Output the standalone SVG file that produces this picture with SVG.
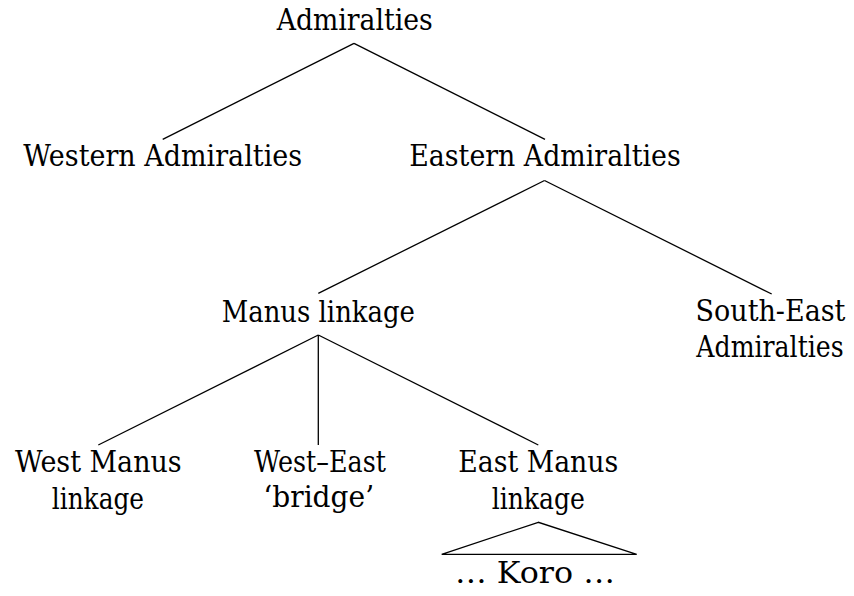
<svg xmlns="http://www.w3.org/2000/svg" width="854" height="596" viewBox="0 0 854 596">
<style>
text{font-family:'DejaVu Serif','Liberation Serif',serif;font-size:30px;fill:#000;text-anchor:middle}
.e{stroke:#000;stroke-width:1.3;fill:none}
</style>
<rect width="854" height="596" fill="#fff"/>
<g id="connectors">
<line class="e" x1="354" y1="43.3" x2="162.7" y2="139.3"/>
<line class="e" x1="354" y1="43.3" x2="545" y2="139.3"/>
<line class="e" x1="544.5" y1="180.5" x2="318.3" y2="293.3"/>
<line class="e" x1="544.5" y1="180.5" x2="771.7" y2="294"/>
<line class="e" x1="318.3" y1="335" x2="98.3" y2="445"/>
<line class="e" x1="318.3" y1="335" x2="318.3" y2="445"/>
<line class="e" x1="318.3" y1="335" x2="538.3" y2="445"/>
<polygon class="e" points="538.3,522.3 441.7,554.3 636.7,554.3"/>
</g>
<g id="n-admiralties"><text x="354.7" y="30" textLength="156" lengthAdjust="spacingAndGlyphs">Admiralties</text></g>
<g id="n-western"><text x="162.7" y="165.7" textLength="278.7" lengthAdjust="spacingAndGlyphs">Western Admiralties</text></g>
<g id="n-eastern"><text x="545" y="165.7" textLength="271.4" lengthAdjust="spacingAndGlyphs">Eastern Admiralties</text></g>
<g id="n-manus"><text x="318.3" y="321.7" textLength="193.3" lengthAdjust="spacingAndGlyphs">Manus linkage</text></g>
<g id="n-southeast"><text transform="translate(770.5,320.7) scale(0.9,1)" x="0" y="0">South-East</text><text transform="translate(770,356.7) scale(0.84,1)" x="0" y="0">Admiralties</text></g>
<g id="n-westmanus"><text x="98.3" y="472.3" textLength="166.7" lengthAdjust="spacingAndGlyphs">West Manus</text><text x="97.9" y="508.5" textLength="92.3" lengthAdjust="spacingAndGlyphs">linkage</text></g>
<g id="n-bridge"><text x="320" y="471.7" textLength="132" lengthAdjust="spacingAndGlyphs">West–East</text><text x="318.7" y="506.7" textLength="110.7" lengthAdjust="spacingAndGlyphs">‘bridge’</text></g>
<g id="n-eastmanus"><text x="538.3" y="471.7" textLength="160" lengthAdjust="spacingAndGlyphs">East Manus</text><text x="538.3" y="508.5" textLength="93.3" lengthAdjust="spacingAndGlyphs">linkage</text></g>
<g id="n-koro"><text x="535" y="583.3" textLength="160" lengthAdjust="spacingAndGlyphs">… Koro …</text></g>
</svg>
